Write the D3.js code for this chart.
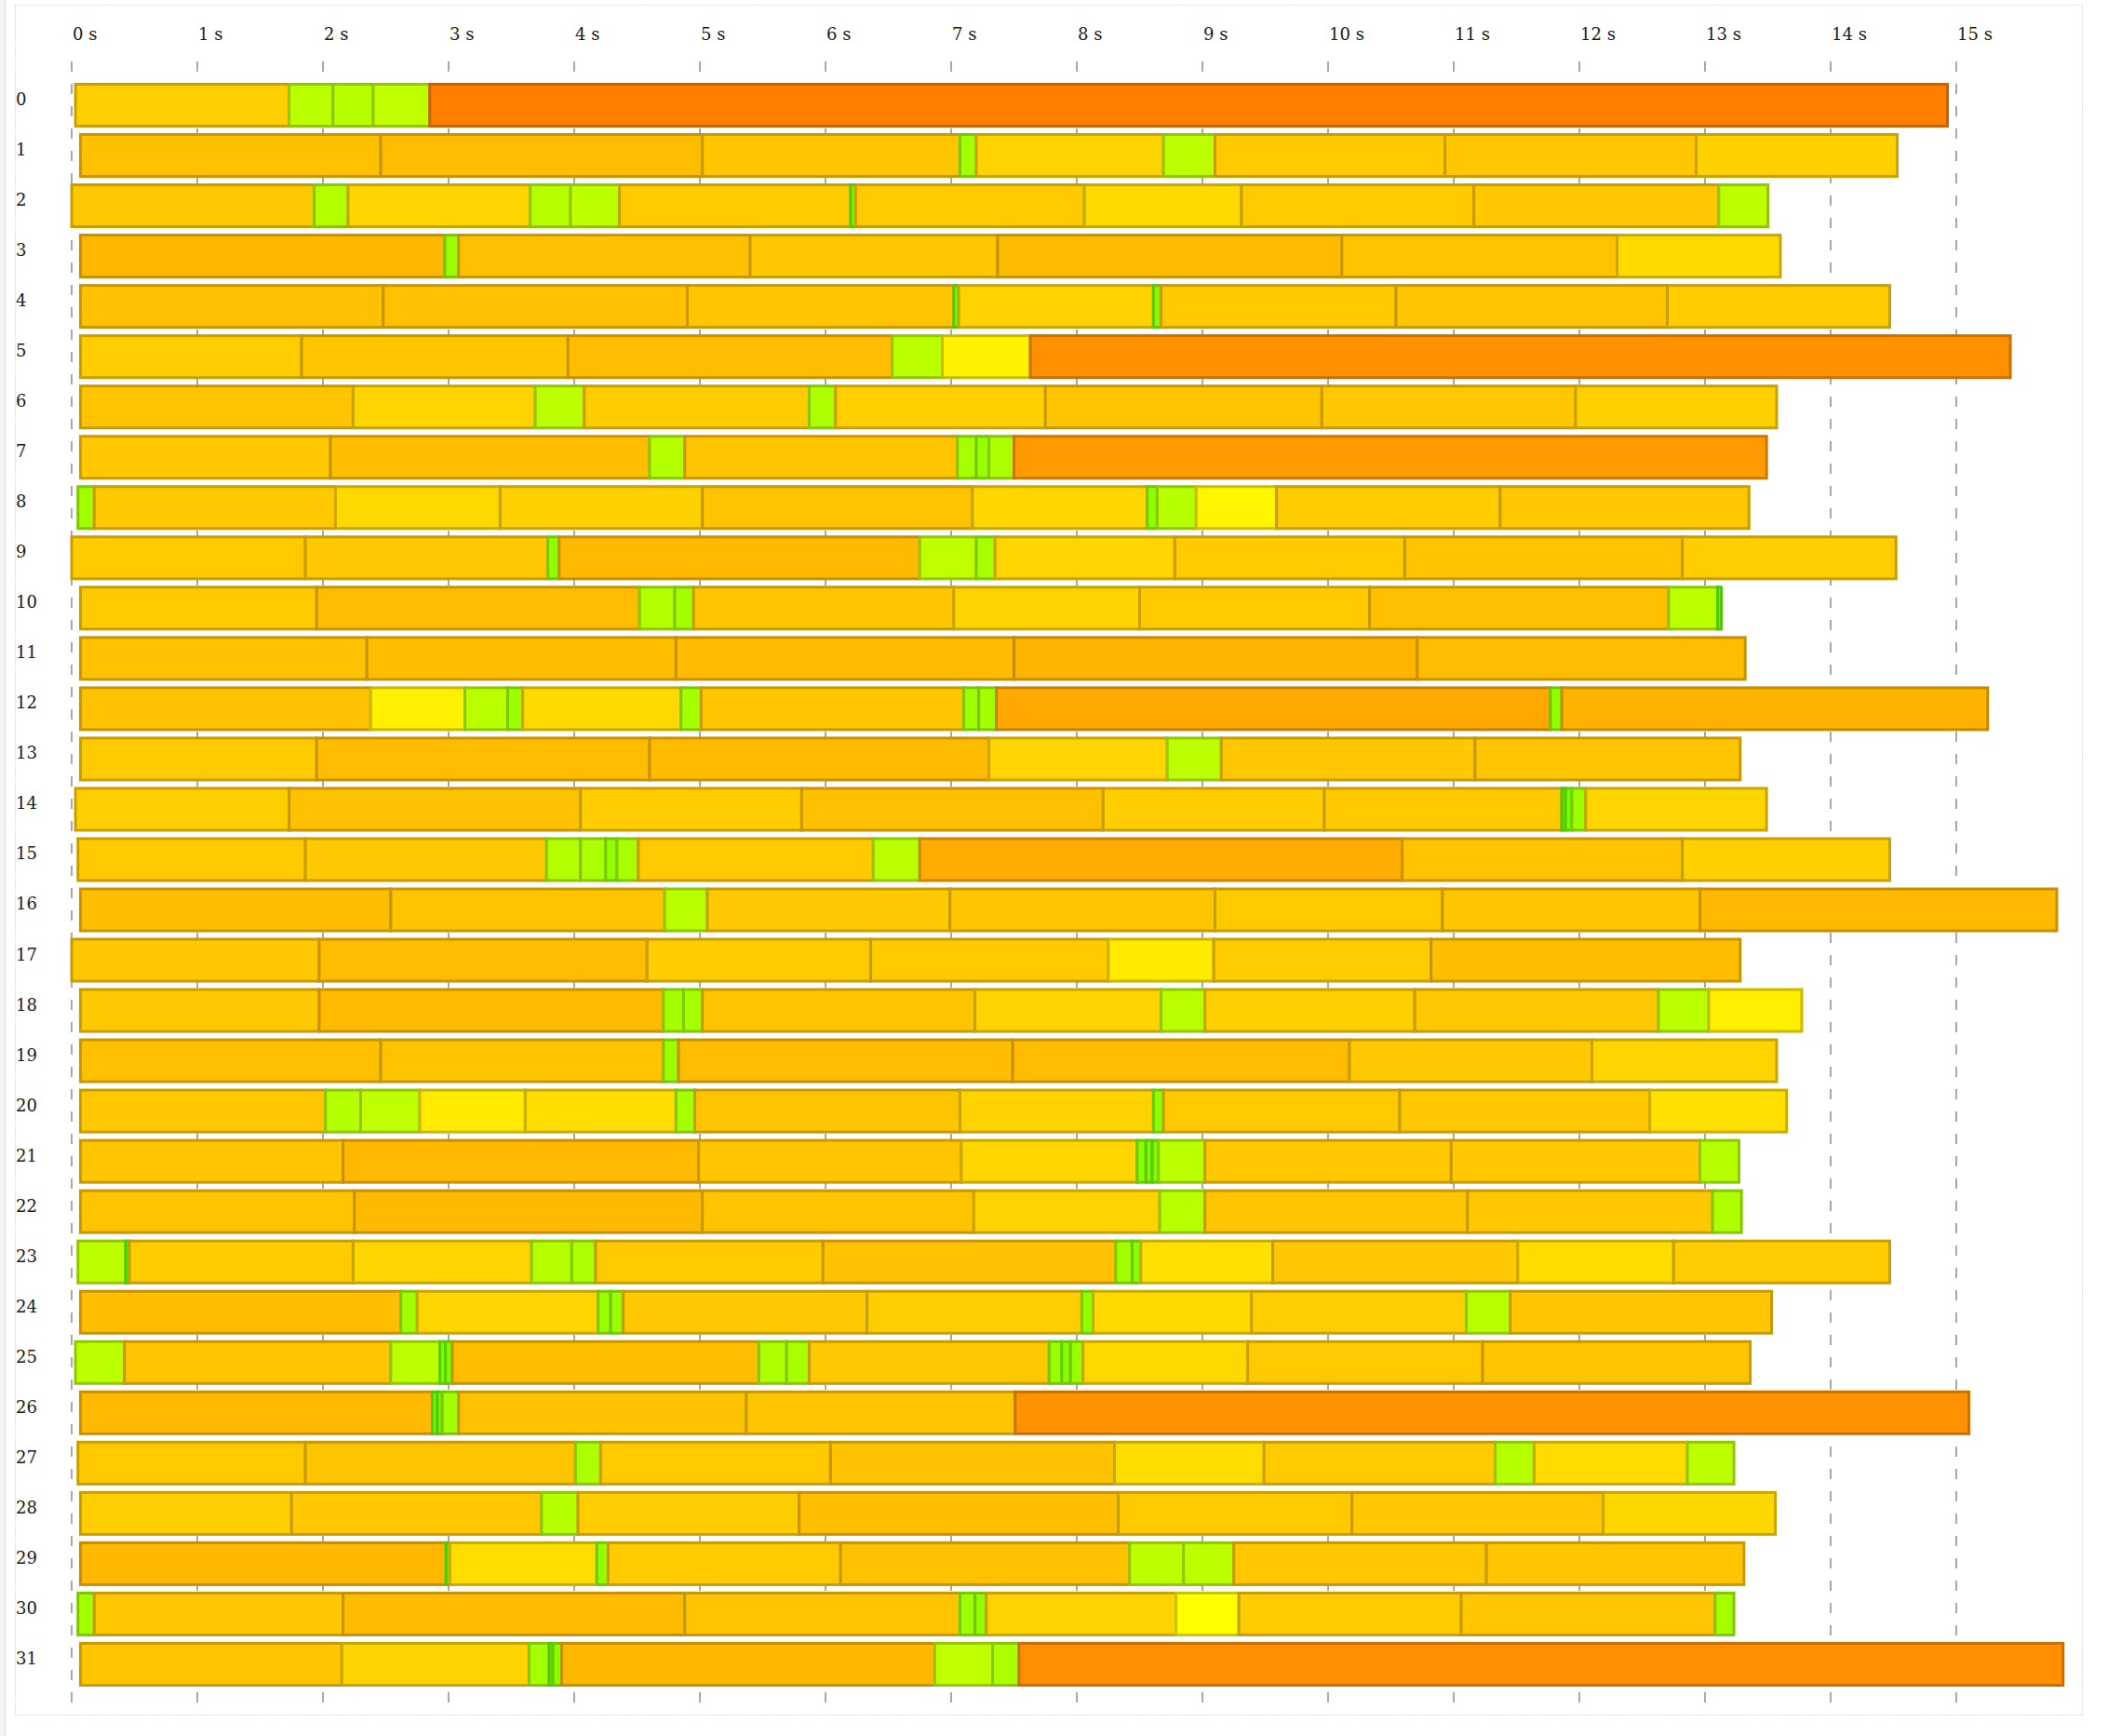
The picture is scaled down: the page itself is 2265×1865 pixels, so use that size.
<!DOCTYPE html>
<html>
<head>
<meta charset="utf-8">
<script src="https://cdn.jsdelivr.net/npm/d3@7"></script>
<style>
  html, body { margin: 0; padding: 0; background: #ffffff; }
  svg { display: block; }
  text { font-family: 'DejaVu Serif', serif; font-size: 18px; fill: #1a1a1a; }
</style>
</head>
<body>
<svg id="chart" width="2265" height="1865"></svg>
<script>
// ---- data: boundaries (seconds) of consecutive segments per row ----
const r0  = [0.03, 1.73, 2.08, 2.40, 2.85, 14.93];
const r1  = [0.07, 2.46, 5.02, 7.07, 7.20, 8.69, 9.10, 10.93, 12.93, 14.53];
const r2  = [0.0, 1.93, 2.20, 3.65, 3.97, 4.36, 6.20, 6.24, 8.06, 9.31, 11.16, 13.11, 13.50];
const r3  = [0.07, 2.97, 3.08, 5.40, 7.37, 10.11, 12.30, 13.60];
const r4  = [0.07, 2.48, 4.90, 7.02, 7.06, 8.61, 8.67, 10.54, 12.70, 14.47];
const r5  = [0.07, 1.83, 3.95, 6.53, 6.93, 7.63, 15.43];
const r6  = [0.07, 2.24, 3.69, 4.08, 5.87, 6.08, 7.75, 9.95, 11.97, 13.57];
const r7  = [0.07, 2.06, 4.60, 4.88, 7.05, 7.20, 7.30, 7.50, 13.49];
const r8  = [0.05, 0.18, 2.10, 3.41, 5.02, 7.17, 8.56, 8.64, 8.95, 9.59, 11.37, 13.35];
const r9  = [0.0, 1.86, 3.79, 3.88, 6.75, 7.20, 7.35, 8.78, 10.61, 12.82, 14.52];
const r10 = [0.07, 1.95, 4.52, 4.80, 4.95, 7.02, 8.50, 10.33, 12.71, 13.10, 13.13];
const r11 = [0.07, 2.35, 4.81, 7.50, 10.71, 13.32];
const r12 = [0.07, 2.38, 3.13, 3.47, 3.59, 4.85, 5.01, 7.10, 7.22, 7.36, 11.77, 11.86, 15.25];
const r13 = [0.07, 1.95, 4.60, 7.30, 8.72, 9.15, 11.17, 13.28];
const r14 = [0.03, 1.73, 4.05, 5.81, 8.21, 9.97, 11.86, 11.89, 11.94, 12.05, 13.49];
const r15 = [0.05, 1.86, 3.78, 4.05, 4.25, 4.34, 4.51, 6.38, 6.75, 10.59, 12.82, 14.47];
const r16 = [0.07, 2.54, 4.72, 5.06, 6.99, 9.10, 10.91, 12.96, 15.80];
const r17 = [0.0, 1.97, 4.58, 6.36, 8.25, 9.09, 10.82, 13.28];
const r18 = [0.07, 1.97, 4.71, 4.87, 5.02, 7.19, 8.67, 9.02, 10.69, 12.63, 13.03, 13.77];
const r19 = [0.07, 2.46, 4.71, 4.83, 7.49, 10.17, 12.10, 13.57];
const r20 = [0.07, 2.02, 2.30, 2.77, 3.61, 4.81, 4.96, 7.07, 8.61, 8.69, 10.57, 12.56, 13.65];
const r21 = [0.07, 2.16, 4.99, 7.08, 8.48, 8.55, 8.60, 8.65, 9.02, 10.98, 12.96, 13.27];
const r22 = [0.07, 2.25, 5.02, 7.18, 8.66, 9.02, 11.11, 13.06, 13.29];
const r23 = [0.05, 0.43, 0.46, 2.24, 3.66, 3.98, 4.17, 5.98, 8.31, 8.44, 8.51, 9.56, 11.51, 12.75, 14.47];
const r24 = [0.07, 2.62, 2.75, 4.19, 4.29, 4.39, 6.33, 8.04, 8.13, 9.39, 11.10, 11.45, 13.53];
const r25 = [0.03, 0.42, 2.54, 2.93, 2.975, 3.03, 5.47, 5.69, 5.87, 7.78, 7.88, 7.95, 8.05, 9.36, 11.23, 13.36];
const r26 = [0.07, 2.87, 2.91, 2.95, 3.08, 5.37, 7.51, 15.10];
const r27 = [0.05, 1.86, 4.01, 4.21, 6.04, 8.30, 9.49, 11.33, 11.64, 12.86, 13.23];
const r28 = [0.07, 1.75, 3.74, 4.03, 5.79, 8.33, 10.19, 12.19, 13.56];
const r29 = [0.07, 2.98, 3.01, 4.18, 4.27, 6.12, 8.42, 8.85, 9.25, 11.26, 13.31];
const r30 = [0.05, 0.18, 2.16, 4.88, 7.07, 7.19, 7.28, 8.79, 9.29, 11.06, 13.08, 13.23];
const r31 = [0.07, 2.15, 3.64, 3.80, 3.83, 3.90, 6.87, 7.33, 7.54, 15.85];

const rows = [r0, r1, r2, r3, r4, r5, r6, r7, r8, r9, r10, r11, r12, r13, r14, r15,
              r16, r17, r18, r19, r20, r21, r22, r23, r24, r25, r26, r27, r28, r29, r30, r31];
const rowLabels = rows.map((_, i) => String(i));
const tickValues = d3.range(0, 16);
const tickLabels = tickValues.map(v => v + " s");

// ---- scales ----
const x = d3.scaleLinear().domain([0, 15]).range([77, 2102]);
const y = d3.scaleBand().domain(d3.range(rows.length))
  .range([86, 86 + 54.03 * rows.length])
  .paddingInner(0.1666).paddingOuter(0.0833);

// duration -> hue (short = green, longer = yellow -> orange)
const hueLong = d3.scaleLog().domain([0.5, 12]).range([60, 30]);
const hueShort = d3.scaleLog().domain([0.02, 0.13, 0.45]).range([100, 82, 75]).clamp(true);
const colorOf = d => d3.hsl(d < 0.485 ? hueShort(Math.max(d, 0.01)) : hueLong(d), 1, 0.5).formatHex();

const svg = d3.select("#chart");

// page decorations
svg.append("rect").attr("x", 0).attr("y", 0).attr("width", 5).attr("height", 1865).attr("fill", "#f2f2f0");
svg.append("line").attr("x1", 5.5).attr("x2", 5.5).attr("y1", 0).attr("y2", 1865).attr("stroke", "#dcdcda");
svg.append("rect").attr("x", 16.5).attr("y", 5.5).attr("width", 2221).attr("height", 1837)
  .attr("fill", "none").attr("stroke", "#bdbdbd").attr("stroke-dasharray", "1,2");

// gridlines
svg.append("g").selectAll("line").data(tickValues).join("line")
  .attr("x1", d => x(d)).attr("x2", d => x(d))
  .attr("y1", 66).attr("y2", 1829)
  .attr("stroke", "#a8a8a8").attr("stroke-width", 2)
  .attr("stroke-dasharray", "11,13");

// top tick labels
svg.append("g").selectAll("text").data(tickValues).join("text")
  .attr("x", d => x(d) + 1).attr("y", 43)
  .text((d, i) => tickLabels[i]);

// row labels
svg.append("g").selectAll("text").data(rowLabels).join("text")
  .attr("x", 17).attr("y", (d, i) => y(i) + y.bandwidth() / 2)
  .text(d => d);

// segments
const segs = [];
rows.forEach((b, i) => {
  for (let k = 0; k < b.length - 1; k++) segs.push({row: i, start: b[k], end: b[k + 1]});
});
svg.append("g").selectAll("rect").data(segs).join("rect")
  .attr("x", d => x(d.start))
  .attr("y", d => y(d.row))
  .attr("width", d => x(d.end) - x(d.start))
  .attr("height", y.bandwidth())
  .attr("fill", d => colorOf(d.end - d.start))
  .attr("stroke", d => d3.color(colorOf(d.end - d.start)).darker(0.7).formatHex())
  .attr("stroke-width", 3);
</script>
</body>
</html>
